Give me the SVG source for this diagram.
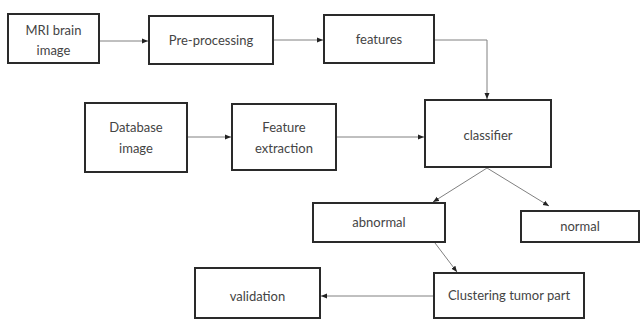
<svg xmlns="http://www.w3.org/2000/svg" width="643" height="320" viewBox="0 0 643 320">
<style>
.box{fill:#fff;stroke:#2a2a2a;stroke-width:2}
.t{font-family:Lato,"Open Sans",sans-serif;font-size:13px;fill:#444;text-anchor:middle}
.c{fill:none;stroke:#808080;stroke-width:1;marker-end:url(#ah)}
</style>
<defs>
<marker id="ah" viewBox="0 0 6 6" refX="6" refY="3" markerWidth="6" markerHeight="6" orient="auto" markerUnits="userSpaceOnUse">
<path d="M0,0.5 L6,3 L0,5.5 z" fill="#222"/>
</marker>
</defs>
<rect width="643" height="320" fill="#fff"/>
<g id="connectors">
<path class="c" d="M100,41 H148"/>
<path class="c" d="M274,40 H323"/>
<path class="c" d="M435,40 H487 V99"/>
<path class="c" d="M188,137 H231"/>
<path class="c" d="M337,137 H424"/>
<path class="c" d="M487,168 L433,202"/>
<path class="c" d="M487,168 L549,206"/>
<path class="c" d="M435,243 L457,272"/>
<path class="c" d="M433,296 H321"/>
</g>
<g id="mri"><rect class="box" x="8" y="14" width="91" height="49"/><text class="t" x="53.5" y="35">MRI brain</text><text class="t" x="53.5" y="55">image</text></g>
<g id="preprocessing"><rect class="box" x="149" y="16" width="124" height="48"/><text class="t" x="211" y="45">Pre-processing</text></g>
<g id="features"><rect class="box" x="324" y="15" width="110" height="48"/><text class="t" x="379" y="44">features</text></g>
<g id="database"><rect class="box" x="85" y="103" width="102" height="69"/><text class="t" x="136" y="132">Database</text><text class="t" x="136" y="153">image</text></g>
<g id="featureextraction"><rect class="box" x="232" y="104" width="104" height="66"/><text class="t" x="284" y="132">Feature</text><text class="t" x="284" y="153">extraction</text></g>
<g id="classifier"><rect class="box" x="425" y="100" width="126" height="67"/><text class="t" x="488" y="140">classifier</text></g>
<g id="abnormal"><rect class="box" x="313" y="203" width="132" height="39"/><text class="t" x="379" y="227">abnormal</text></g>
<g id="normal"><rect class="box" x="521" y="211" width="118" height="31"/><text class="t" x="580" y="231">normal</text></g>
<g id="clustering"><rect class="box" x="434" y="273" width="150" height="45"/><text class="t" x="509" y="300">Clustering tumor part</text></g>
<g id="validation"><rect class="box" x="195" y="268" width="125" height="50"/><text class="t" x="257.5" y="301">validation</text></g>
</svg>
